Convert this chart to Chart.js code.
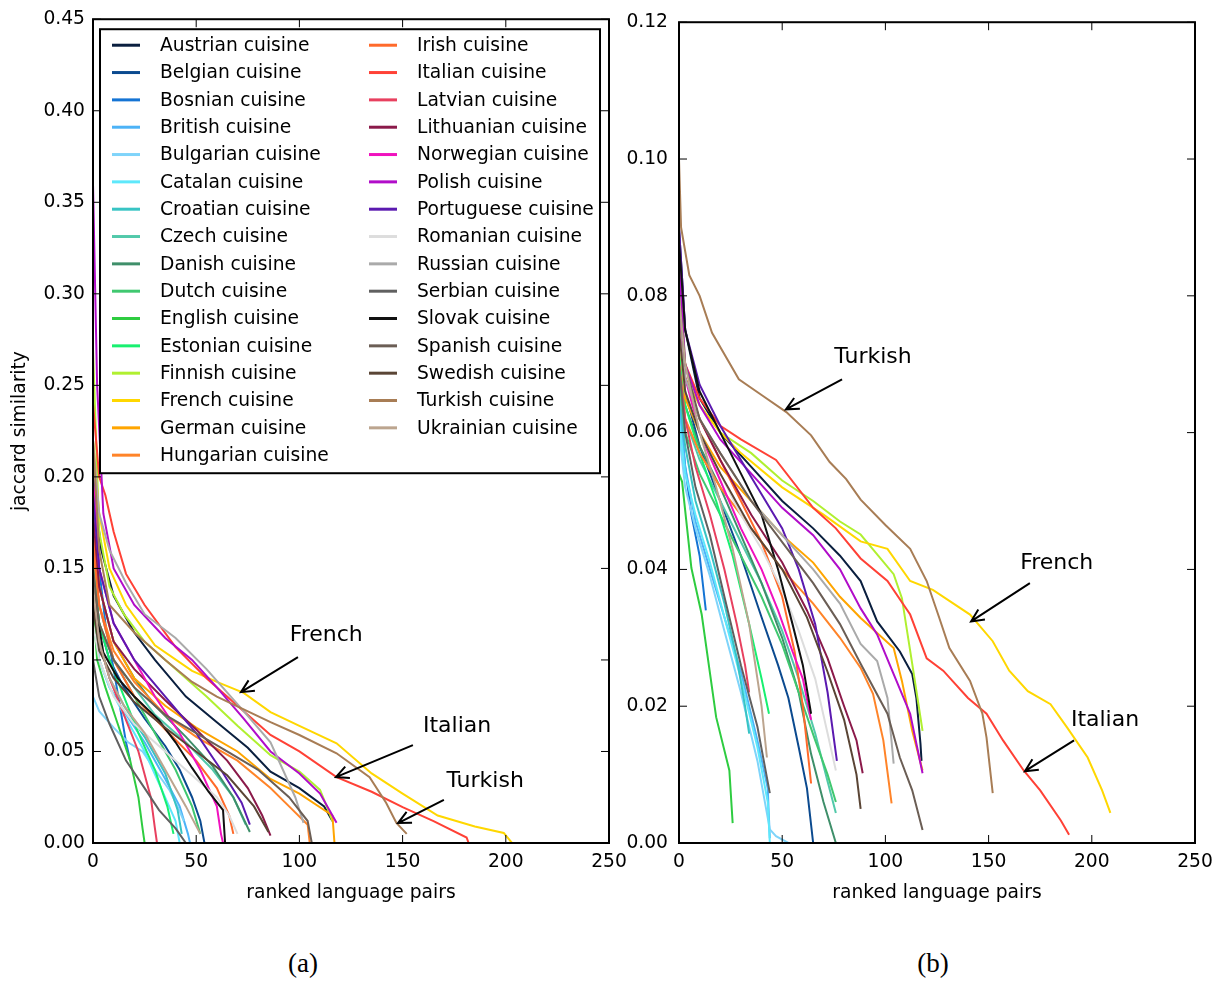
<!DOCTYPE html>
<html>
<head>
<meta charset="utf-8">
<script src="https://cdn.jsdelivr.net/npm/chart.js@4.4.1/dist/chart.umd.min.js"></script>
<style>
html, body { margin: 0; padding: 0; background: #fff; }
body { width: 1232px; height: 981px; position: relative; overflow: hidden; }
.panel { position: absolute; top: 0; height: 920px; }
#boxA { left: 0; width: 640px; }
#boxB { left: 620px; width: 612px; }
.cap { position: absolute; top: 950px; line-height: 1; font-family: "Liberation Serif", serif; font-size: 27px; transform: translateX(-50%); }
</style>
</head>
<body>
<div class="panel" id="boxA"><canvas id="chartA"></canvas></div>
<div class="panel" id="boxB"><canvas id="chartB"></canvas></div>
<div class="cap" style="left:303px">(a)</div>
<div class="cap" style="left:933px">(b)</div>
<script>
// nombres de las cocinas (orden de la leyenda)
var cuisines = ['Austrian', 'Belgian', 'Bosnian', 'British', 'Bulgarian', 'Catalan', 'Croatian', 'Czech',
  'Danish', 'Dutch', 'English', 'Estonian', 'Finnish', 'French', 'German', 'Hungarian',
  'Irish', 'Italian', 'Latvian', 'Lithuanian', 'Norwegian', 'Polish', 'Portuguese', 'Romanian',
  'Russian', 'Serbian', 'Slovak', 'Spanish', 'Swedish', 'Turkish', 'Ukrainian'];

var colors = ['#0a1f3f', '#0b4a8f', '#1574d4', '#4db3f7', '#7fd4fa', '#5ee8fb', '#38c4c4', '#52c9aa',
  '#3f8f6a', '#40c870', '#2ecc40', '#18f070', '#b0f030', '#ffd700', '#ffa500', '#ff8429',
  '#ff6a2b', '#ff4136', '#e8405f', '#8b1a4a', '#f012be', '#b10dc9', '#5b1ab0', '#dddddd',
  '#aaaaaa', '#606060', '#111111', '#6b5e55', '#5a4535', '#a87d55', '#bca58f'];

// panel (a): [rango, similitud]
var aAustrian = [[0,0.2],[4,0.16],[10,0.135],[20,0.115],[30,0.1],[45,0.08],[60,0.066],[75,0.052],[86,0.039],[100,0.03],[112,0.02],[116,0.012]];
var aBelgian = [[0,0.15],[3,0.12],[8,0.1],[15,0.085],[25,0.068],[35,0.053],[42,0.04],[48,0.025],[52,0.012],[54,0]];
var aBosnian = [[0,0.2],[3,0.15],[6,0.12],[10,0.095],[13,0.075],[16,0.055],[18,0.045]];
var aBritish = [[0,0.13],[3,0.1],[8,0.085],[15,0.072],[25,0.055],[35,0.035],[42,0.02],[46,0.005],[47,0]];
var aBulgarian = [[0,0.08],[3,0.072],[10,0.063],[17,0.055],[24,0.05],[30,0.04],[37,0.029],[41,0.02],[44,0.012]];
var aCatalan = [[0,0.12],[3,0.1],[8,0.085],[15,0.07],[25,0.05],[33,0.03],[40,0.012],[42,0]];
var aCroatian = [[0,0.14],[3,0.11],[8,0.09],[15,0.075],[25,0.058],[35,0.038],[41,0.018],[43,0.005]];
var aCzech = [[0,0.16],[3,0.13],[10,0.1],[20,0.085],[30,0.07],[45,0.055],[58,0.04],[68,0.025],[74,0.01]];
var aDanish = [[0,0.17],[3,0.14],[10,0.11],[20,0.09],[30,0.075],[45,0.058],[58,0.042],[68,0.025],[76,0.006]];
var aDutch = [[0,0.15],[3,0.12],[10,0.1],[20,0.08],[30,0.06],[40,0.04],[48,0.02],[52,0.005]];
var aEnglish = [[0,0.13],[2,0.1],[6,0.085],[12,0.065],[18,0.045],[22,0.025],[24,0.008],[25,0]];
var aEstonian = [[0,0.15],[3,0.12],[8,0.1],[15,0.08],[22,0.06],[30,0.04],[36,0.02],[39,0.005]];
var aFinnish = [[0,0.27],[3,0.17],[8,0.14],[15,0.125],[25,0.11],[40,0.095],[55,0.08],[70,0.064],[86,0.048],[100,0.039],[110,0.029],[114,0.018],[116,0.012]];
var aFrench = [[0,0.22],[3,0.18],[8,0.15],[16,0.13],[30,0.108],[48,0.094],[60,0.088],[73,0.082],[86,0.0715],[100,0.064],[118,0.0545],[135,0.038],[150,0.027],[167,0.015],[185,0.009],[199,0.0055],[203,0]];
var aGerman = [[0,0.18],[3,0.14],[10,0.11],[20,0.09],[35,0.075],[50,0.063],[70,0.05],[86,0.035],[100,0.027],[116,0.015],[117,0]];
var aHungarian = [[0,0.16],[3,0.13],[10,0.105],[20,0.088],[35,0.07],[50,0.058],[70,0.045],[86,0.03],[95,0.02],[104,0.01],[105,0]];
var aIrish = [[0,0.17],[3,0.13],[10,0.1],[20,0.08],[35,0.062],[50,0.045],[60,0.03],[66,0.015],[68,0.005]];
var aItalian = [[0,0.24],[3,0.2],[6,0.19],[10,0.17],[16,0.147],[25,0.13],[40,0.107],[55,0.09],[70,0.075],[86,0.059],[100,0.05],[118,0.036],[135,0.028],[150,0.0196],[165,0.012],[181,0.003],[182,0]];
var aLatvian = [[0,0.14],[3,0.11],[8,0.09],[15,0.07],[22,0.05],[28,0.025],[30,0.008],[31,0]];
var aLithuanian = [[0,0.18],[3,0.14],[10,0.11],[20,0.095],[35,0.078],[50,0.062],[65,0.045],[75,0.03],[82,0.015],[86,0.004]];
var aNorwegian = [[0,0.2],[3,0.15],[10,0.12],[20,0.1],[30,0.08],[42,0.06],[52,0.04],[60,0.02],[62,0.005],[63,0]];
var aPolish = [[0,0.36],[2,0.25],[5,0.18],[10,0.15],[20,0.13],[35,0.112],[48,0.1],[60,0.085],[73,0.068],[86,0.05],[100,0.038],[110,0.027],[118,0.011]];
var aPortuguese = [[0,0.19],[3,0.15],[10,0.12],[20,0.1],[35,0.08],[50,0.06],[62,0.04],[72,0.022],[76,0.01]];
var aRomanian = [[0,0.12],[3,0.1],[10,0.08],[20,0.065],[35,0.05],[50,0.035],[60,0.025],[66,0.015],[70,0.005]];
var aRussian = [[0,0.22],[3,0.18],[8,0.16],[16,0.142],[25,0.125],[40,0.112],[55,0.095],[73,0.072],[86,0.055],[92,0.04],[98,0.025],[102,0.011]];
var aSerbian = [[0,0.1],[3,0.08],[8,0.065],[16,0.045],[25,0.03],[32,0.018],[40,0.008],[45,0]];
var aSlovak = [[0,0.14],[5,0.104],[12,0.09],[20,0.08],[32,0.067],[40,0.055],[48,0.041],[56,0.028],[63,0.018],[64,0]];
var aSpanish = [[0,0.15],[3,0.12],[10,0.1],[20,0.085],[35,0.07],[50,0.06],[65,0.05],[80,0.04],[95,0.025],[104,0.012],[106,0]];
var aSwedish = [[0,0.13],[3,0.105],[10,0.09],[20,0.077],[35,0.063],[50,0.05],[65,0.037],[78,0.02],[85,0.006]];
var aTurkish = [[0,0.22],[3,0.16],[8,0.13],[20,0.115],[35,0.1],[48,0.088],[60,0.08],[73,0.073],[86,0.066],[100,0.059],[118,0.049],[134,0.036],[142,0.022],[147,0.011],[152,0.005]];
var aUkrainian = [[0,0.14],[3,0.11],[8,0.09],[15,0.075],[25,0.06],[35,0.04],[45,0.02],[52,0.005]];

// panel (b)
var bAustrian = [[0,0.09],[3,0.075],[10,0.065],[20,0.06],[35,0.055],[50,0.05],[65,0.046],[78,0.042],[88,0.0383],[96,0.0324],[107,0.028],[113,0.0247],[115,0.0212],[117,0.0145],[117.5,0.012]];
var bBelgian = [[0,0.075],[3,0.066],[10,0.058],[20,0.05],[30,0.042],[40,0.033],[48,0.026],[53,0.0212],[58,0.014],[62,0.008],[65,0]];
var bBosnian = [[0,0.065],[3,0.055],[6,0.048],[10,0.042],[13,0.034]];
var bBritish = [[0,0.065],[3,0.055],[8,0.047],[15,0.04],[22,0.033],[30,0.025],[38,0.015],[43,0.008],[44,0.0007]];
var bBulgarian = [[0,0.06],[3,0.052],[8,0.046],[15,0.039],[22,0.031],[30,0.022],[38,0.012],[44,0.002],[47,0.001],[53,0]];
var bCatalan = [[0,0.062],[3,0.054],[8,0.048],[15,0.041],[22,0.033],[30,0.024],[38,0.014],[43,0.006],[44,0]];
var bCroatian = [[0,0.066],[3,0.058],[8,0.05],[15,0.043],[22,0.035],[28,0.027],[32,0.02],[34,0.016]];
var bCzech = [[0,0.07],[3,0.062],[10,0.056],[20,0.05],[30,0.044],[40,0.038],[50,0.031],[58,0.024],[66,0.016],[72,0.009],[76,0.0044]];
var bDanish = [[0,0.072],[3,0.064],[10,0.058],[20,0.052],[30,0.045],[40,0.038],[50,0.03],[58,0.022],[64,0.013],[70,0.006],[76,0]];
var bDutch = [[0,0.068],[3,0.06],[10,0.054],[20,0.048],[30,0.042],[40,0.036],[50,0.029],[58,0.022],[66,0.015],[72,0.01],[76,0.006]];
var bEnglish = [[0,0.054],[1.5,0.0528],[6,0.0402],[11,0.0334],[18,0.0184],[24.4,0.0106],[26,0.0029]];
var bEstonian = [[0,0.072],[3,0.064],[10,0.057],[18,0.05],[26,0.042],[34,0.032],[40,0.024],[43.6,0.0189]];
var bFinnish = [[0,0.085],[3,0.07],[10,0.064],[20,0.06],[35,0.057],[50,0.053],[65,0.05],[78,0.047],[88,0.0451],[104,0.0393],[108,0.0358],[113,0.0262],[118,0.0164]];
var bFrench = [[0,0.075],[3,0.068],[10,0.064],[20,0.06],[30,0.057],[50,0.052],[70,0.048],[88,0.0441],[101,0.043],[112,0.0383],[123,0.037],[141,0.0334],[152,0.0295],[160,0.0252],[169,0.0222],[180,0.0203],[188,0.0169],[198,0.0125],[205,0.0077],[209,0.0044]];
var bGerman = [[0,0.075],[3,0.065],[10,0.06],[20,0.055],[35,0.05],[50,0.045],[65,0.041],[78,0.036],[88,0.0329],[104,0.0285],[108,0.0237],[113,0.0164],[118,0.0106]];
var bHungarian = [[0,0.07],[3,0.062],[10,0.057],[20,0.052],[35,0.046],[50,0.04],[65,0.035],[78,0.03],[88,0.0256],[94,0.0218],[99,0.015],[103,0.0058]];
var bIrish = [[0,0.078],[3,0.068],[10,0.062],[20,0.056],[30,0.05],[40,0.044],[50,0.036],[56,0.028],[60,0.02],[64,0.0087]];
var bItalian = [[0,0.078],[3,0.07],[10,0.065],[20,0.061],[30,0.059],[47,0.056],[65,0.049],[76,0.046],[88,0.0416],[101,0.0383],[112,0.0334],[120,0.027],[128,0.0252],[140,0.0212],[149,0.0189],[157,0.015],[167,0.0106],[175,0.0077],[185,0.0033],[189,0.0012]];
var bLatvian = [[0,0.07],[3,0.062],[8,0.055],[15,0.048],[22,0.04],[28,0.032],[32,0.026],[34,0.022]];
var bLithuanian = [[0,0.078],[3,0.068],[10,0.062],[20,0.056],[35,0.048],[50,0.041],[62,0.034],[72,0.027],[80,0.02],[86,0.015],[89,0.0102]];
var bNorwegian = [[0,0.08],[3,0.068],[10,0.06],[20,0.053],[30,0.046],[40,0.04],[48,0.034],[55,0.028],[60,0.024],[64,0.018]];
var bPolish = [[0,0.085],[3,0.07],[10,0.064],[20,0.059],[35,0.054],[50,0.049],[65,0.045],[78,0.04],[88,0.0343],[96,0.0305],[104,0.0247],[112,0.0189],[118,0.0102]];
var bPortuguese = [[0,0.09],[3,0.075],[10,0.067],[20,0.061],[30,0.056],[40,0.051],[50,0.046],[58,0.04],[66,0.032],[72,0.022],[76.5,0.012]];
var bRomanian = [[0,0.075],[3,0.066],[10,0.06],[20,0.054],[30,0.048],[40,0.043],[50,0.037],[58,0.031],[66,0.024],[72,0.016],[76,0.0106]];
var bRussian = [[0,0.08],[3,0.068],[10,0.062],[20,0.057],[35,0.05],[50,0.045],[65,0.04],[78,0.035],[88,0.0291],[96,0.0266],[101,0.0212],[104,0.0116]];
var bSerbian = [[0,0.07],[3,0.06],[8,0.052],[15,0.045],[22,0.036],[30,0.026],[38,0.017],[44,0.0073]];
var bSlovak = [[0,0.088],[3,0.075],[10,0.066],[20,0.06],[30,0.054],[40,0.048],[48,0.04],[55,0.032],[60,0.026],[64,0.0189]];
var bSpanish = [[0,0.08],[3,0.07],[10,0.062],[20,0.057],[35,0.05],[50,0.044],[65,0.038],[78,0.032],[88,0.0262],[101,0.0189],[107,0.0125],[113,0.0077],[118,0.0019]];
var bSwedish = [[0,0.075],[3,0.066],[10,0.06],[20,0.054],[35,0.046],[50,0.04],[62,0.033],[72,0.025],[80,0.018],[86,0.01],[88,0.005]];
var bTurkish = [[0,0.1],[1,0.09],[5,0.083],[10,0.08],[16,0.0746],[29,0.0678],[40,0.0655],[52,0.063],[64,0.0596],[73,0.0557],[81,0.0532],[88,0.0502],[100,0.0465],[112,0.043],[120,0.0383],[126,0.033],[131,0.0285],[141,0.0237],[147,0.0189],[149,0.0154],[152,0.0073]];
var bUkrainian = [[0,0.08],[3,0.07],[10,0.06],[18,0.052],[26,0.043],[34,0.032],[40,0.02],[42.6,0.0125]];

var seriesA = [aAustrian, aBelgian, aBosnian, aBritish, aBulgarian, aCatalan, aCroatian, aCzech, aDanish, aDutch,
  aEnglish, aEstonian, aFinnish, aFrench, aGerman, aHungarian, aIrish, aItalian, aLatvian, aLithuanian,
  aNorwegian, aPolish, aPortuguese, aRomanian, aRussian, aSerbian, aSlovak, aSpanish, aSwedish, aTurkish, aUkrainian];
var seriesB = [bAustrian, bBelgian, bBosnian, bBritish, bBulgarian, bCatalan, bCroatian, bCzech, bDanish, bDutch,
  bEnglish, bEstonian, bFinnish, bFrench, bGerman, bHungarian, bIrish, bItalian, bLatvian, bLithuanian,
  bNorwegian, bPolish, bPortuguese, bRomanian, bRussian, bSerbian, bSlovak, bSpanish, bSwedish, bTurkish, bUkrainian];

// anotaciones: texto, posición del texto, inicio y punta de la flecha (en unidades de datos)
var notesA = [['French', 113, 0.1135, 99.3, 0.1015, 71.7, 0.0824],
  ['Italian', 176.4, 0.0638, 155, 0.0535, 117.7, 0.036],
  ['Turkish', 190, 0.0338, 170, 0.0235, 147.8, 0.0109]];
var notesB = [['Turkish', 94, 0.071, 79, 0.0678, 51.8, 0.0634],
  ['French', 183, 0.0409, 170, 0.038, 141.5, 0.0324],
  ['Italian', 206.4, 0.0179, 191.4, 0.015, 167.6, 0.0105]];

Chart.defaults.font.family = '"DejaVu Sans", sans-serif';
Chart.defaults.font.size = 18.7;
Chart.defaults.color = '#000';

// marco, marcas hacia dentro, flechas y leyenda
var marco = {
  id: 'marco',
  afterDatasetsDraw: function(chart, args, opts) {
    var ctx = chart.ctx, a = chart.chartArea, x = chart.scales.x, y = chart.scales.y;
    ctx.save();
    ctx.strokeStyle = '#000';
    ctx.lineWidth = 1;
    ctx.beginPath();
    x.ticks.forEach(function(t) {
      var px = x.getPixelForValue(t.value);
      ctx.moveTo(px, a.bottom); ctx.lineTo(px, a.bottom - 8);
      ctx.moveTo(px, a.top); ctx.lineTo(px, a.top + 8);
    });
    y.ticks.forEach(function(t) {
      var py = y.getPixelForValue(t.value);
      ctx.moveTo(a.left, py); ctx.lineTo(a.left + 8, py);
      ctx.moveTo(a.right, py); ctx.lineTo(a.right - 8, py);
    });
    ctx.stroke();

    // flechas
    ctx.fillStyle = '#000';
    ctx.textAlign = 'center';
    ctx.textBaseline = 'middle';
    ctx.font = '22px "DejaVu Sans"';
    (opts.notes || []).forEach(function(n) {
      ctx.fillText(n[0], x.getPixelForValue(n[1]), y.getPixelForValue(n[2]));
      var ax = x.getPixelForValue(n[3]), ay = y.getPixelForValue(n[4]);
      var bx = x.getPixelForValue(n[5]), by = y.getPixelForValue(n[6]);
      var ang = Math.atan2(ay - by, ax - bx);
      ctx.lineWidth = 2;
      ctx.beginPath();
      ctx.moveTo(ax, ay); ctx.lineTo(bx, by);
      ctx.moveTo(bx + 14 * Math.cos(ang + 0.45), by + 14 * Math.sin(ang + 0.45));
      ctx.lineTo(bx, by);
      ctx.lineTo(bx + 14 * Math.cos(ang - 0.45), by + 14 * Math.sin(ang - 0.45));
      ctx.stroke();
    });

    // leyenda dentro del área del gráfico
    if (opts.legend) {
      var lx = a.left + 7, ly = a.top + 10;
      ctx.fillStyle = '#fff';
      ctx.fillRect(lx, ly, 500, 444);
      ctx.lineWidth = 2;
      ctx.strokeRect(lx, ly, 500, 444);
      ctx.textAlign = 'left';
      ctx.font = '18.7px "DejaVu Sans"';
      chart.data.datasets.forEach(function(ds, i) {
        var col = i < 16 ? 0 : 1;
        var row = col ? i - 16 : i;
        var yy = a.top + 26 + row * 27.33;
        var sx = col ? a.left + 276 : a.left + 19;
        ctx.strokeStyle = ds.borderColor;
        ctx.lineWidth = 3;
        ctx.beginPath();
        ctx.moveTo(sx, yy); ctx.lineTo(sx + 28, yy);
        ctx.stroke();
        ctx.fillStyle = '#000';
        ctx.fillText(ds.label, sx + 48, yy + 1);
      });
    }

    ctx.strokeStyle = '#000';
    ctx.lineWidth = 2;
    ctx.strokeRect(a.left, a.top, a.right - a.left, a.bottom - a.top);
    ctx.restore();
  }
};

function armarDatos(series) {
  return cuisines.map(function(name, i) {
    return {
      label: name + ' cuisine',
      data: series[i],
      borderColor: colors[i],
      backgroundColor: colors[i],
      borderWidth: 2,
      pointRadius: 0,
      showLine: true,
      tension: 0,
      order: -i
    };
  });
}

function crearGrafica(id, series, yMax, yStep, notes, conLeyenda, yWidth, yPad, padRight) {
  var escalaY = {
    type: 'linear', min: 0, max: yMax,
    ticks: { stepSize: yStep, padding: yPad, callback: function(v) { return v.toFixed(2); } },
    grid: { display: false, drawTicks: false },
    border: { display: false },
    afterFit: function(s) { s.width = yWidth; }
  };
  if (conLeyenda) {
    escalaY.title = { display: true, text: 'jaccard similarity', padding: { top: 9, bottom: 0 } };
  }
  return new Chart(document.getElementById(id).getContext('2d'), {
    type: 'scatter',
    data: { datasets: armarDatos(series) },
    options: {
      responsive: true,
      maintainAspectRatio: false,
      animation: false,
      layout: { padding: { top: 18, right: padRight, left: 0, bottom: 0 } },
      scales: {
        x: {
          type: 'linear', min: 0, max: 250,
          ticks: { stepSize: 50, padding: 8 },
          grid: { display: false, drawTicks: false },
          border: { display: false },
          title: { display: true, text: 'ranked language pairs', padding: { top: 0, bottom: 16 } },
          afterFit: function(s) { s.height = 77; }
        },
        y: escalaY
      },
      plugins: {
        legend: { display: false },
        tooltip: { enabled: false },
        marco: { notes: notes, legend: conLeyenda }
      }
    },
    plugins: [marco]
  });
}

crearGrafica('chartA', seriesA, 0.45, 0.05, notesA, true, 93, 8, 31);
crearGrafica('chartB', seriesB, 0.12, 0.02, notesB, false, 59, 11, 37);
</script>
</body>
</html>
